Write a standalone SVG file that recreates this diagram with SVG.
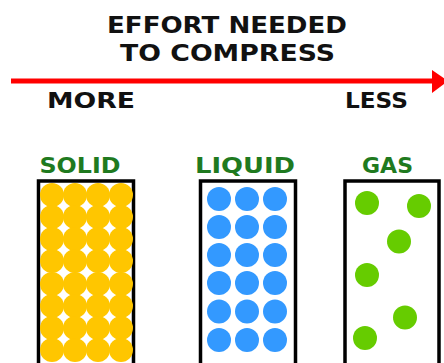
<svg xmlns="http://www.w3.org/2000/svg" width="444" height="363" viewBox="0 0 444 363">
<style>
.t{font-family:"DejaVu Sans","Liberation Sans",sans-serif;font-weight:bold;fill:#111;}
.lbl{font-family:"DejaVu Sans","Liberation Sans",sans-serif;font-weight:bold;fill:#1f7a1f;font-size:22px;}
.box{fill:#fff;stroke:#000;stroke-width:3.5;}
.s{fill:#ffc600;}
.l{fill:#3399ff;}
.g{fill:#66cc00;}
</style>
<rect width="444" height="363" fill="#fff"/>
<g id="title">
<text class="t" x="227" y="33" font-size="23" text-anchor="middle" textLength="240" lengthAdjust="spacingAndGlyphs">EFFORT NEEDED</text>
<text class="t" x="227.5" y="61" font-size="23" text-anchor="middle" textLength="215" lengthAdjust="spacingAndGlyphs">TO COMPRESS</text>
</g>
<g id="connectors">
<line x1="11" y1="81" x2="434" y2="81" stroke="#ff0000" stroke-width="5"/>
<polygon points="432,70 448,81 432,93" fill="#ff0000"/>
</g>
<g id="more"><text class="t" x="47" y="108" font-size="21" textLength="88" lengthAdjust="spacingAndGlyphs">MORE</text></g>
<g id="less"><text class="t" x="345" y="108" font-size="21" textLength="63" lengthAdjust="spacingAndGlyphs">LESS</text></g>
<g id="solid">
<text class="lbl" x="80" y="173" text-anchor="middle" textLength="81" lengthAdjust="spacingAndGlyphs">SOLID</text>
<rect class="box" x="38.5" y="181" width="95" height="190"/>
<g class="s">
<circle cx="52" cy="195" r="12"/><circle cx="75" cy="195" r="12"/><circle cx="98" cy="195" r="12"/><circle cx="121" cy="195" r="12"/>
<circle cx="52" cy="217" r="12"/><circle cx="75" cy="217" r="12"/><circle cx="98" cy="217" r="12"/><circle cx="121" cy="217" r="12"/>
<circle cx="52" cy="239" r="12"/><circle cx="75" cy="239" r="12"/><circle cx="98" cy="239" r="12"/><circle cx="121" cy="239" r="12"/>
<circle cx="52" cy="261" r="12"/><circle cx="75" cy="261" r="12"/><circle cx="98" cy="261" r="12"/><circle cx="121" cy="261" r="12"/>
<circle cx="52" cy="284" r="12"/><circle cx="75" cy="284" r="12"/><circle cx="98" cy="284" r="12"/><circle cx="121" cy="284" r="12"/>
<circle cx="52" cy="306" r="12"/><circle cx="75" cy="306" r="12"/><circle cx="98" cy="306" r="12"/><circle cx="121" cy="306" r="12"/>
<circle cx="52" cy="328" r="12"/><circle cx="75" cy="328" r="12"/><circle cx="98" cy="328" r="12"/><circle cx="121" cy="328" r="12"/>
<circle cx="52" cy="350" r="12"/><circle cx="75" cy="350" r="12"/><circle cx="98" cy="350" r="12"/><circle cx="121" cy="350" r="12"/>
</g>
</g>
<g id="liquid">
<text class="lbl" x="245" y="173" text-anchor="middle" textLength="100" lengthAdjust="spacingAndGlyphs">LIQUID</text>
<rect class="box" x="200.5" y="181" width="95" height="190"/>
<g class="l">
<circle cx="219" cy="199" r="12"/><circle cx="247" cy="199" r="12"/><circle cx="275" cy="199" r="12"/>
<circle cx="219" cy="227" r="12"/><circle cx="247" cy="227" r="12"/><circle cx="275" cy="227" r="12"/>
<circle cx="219" cy="255" r="12"/><circle cx="247" cy="255" r="12"/><circle cx="275" cy="255" r="12"/>
<circle cx="219" cy="283" r="12"/><circle cx="247" cy="283" r="12"/><circle cx="275" cy="283" r="12"/>
<circle cx="219" cy="311.5" r="12"/><circle cx="247" cy="311.5" r="12"/><circle cx="275" cy="311.5" r="12"/>
<circle cx="219" cy="340" r="12"/><circle cx="247" cy="340" r="12"/><circle cx="275" cy="340" r="12"/>
</g>
</g>
<g id="gas">
<text class="lbl" x="387.5" y="173" text-anchor="middle" textLength="51" lengthAdjust="spacingAndGlyphs">GAS</text>
<rect class="box" x="345" y="181" width="94" height="190"/>
<g class="g">
<circle cx="367" cy="203" r="12"/><circle cx="419" cy="206" r="12"/><circle cx="399" cy="241.5" r="12"/>
<circle cx="367" cy="275" r="12"/><circle cx="405" cy="317.5" r="12"/><circle cx="365" cy="338" r="12"/>
</g>
</g>
</svg>
